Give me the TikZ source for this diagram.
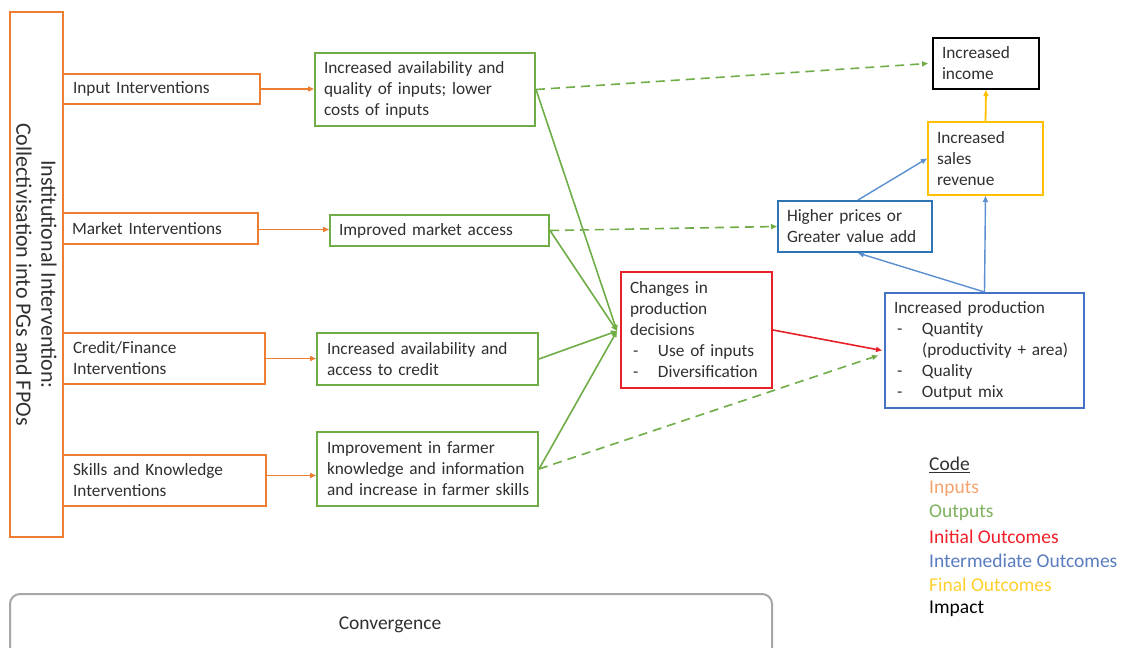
\documentclass[tikz,border=0pt]{standalone}
\usepackage{fontspec}
\setmainfont{Carlito}
\usetikzlibrary{arrows.meta}
\definecolor{cOr}{HTML}{ED7D31}
\definecolor{cGr}{HTML}{70AD47}
\definecolor{cRd}{HTML}{E8202A}
\definecolor{cBl}{HTML}{4472C4}
\definecolor{cBl2}{HTML}{2E75B6}
\definecolor{cBlA}{HTML}{5B8FD0}
\definecolor{cYe}{HTML}{FFC000}
\definecolor{cTx}{HTML}{303030}
\definecolor{cGy}{HTML}{A6A6A6}
\definecolor{lgOr}{HTML}{F4A46E}
\definecolor{lgGr}{HTML}{7FB25E}
\definecolor{lgRd}{HTML}{F0202A}
\definecolor{lgBl}{HTML}{5A7CC0}
\definecolor{lgYe}{HTML}{FFD030}
\begin{document}
\begin{tikzpicture}[x=1pt,y=-1pt,
  font=\fontsize{17.3}{21}\selectfont,
  bx/.style={draw, line width=2pt, align=left, inner xsep=9pt, inner ysep=0pt, text=cTx, anchor=center},
  inbox/.style={bx, draw=cOr},
  outbox/.style={bx, draw=cGr},
  inibox/.style={bx, draw=cRd},
  midbox/.style={bx, draw=cBl},
  midboxb/.style={bx, draw=cBl2},
  finbox/.style={bx, draw=cYe},
  impbox/.style={bx, draw=black},
  tip/.style={-{Triangle[length=6pt,width=5pt]}},
  orarrow/.style={tip, draw=cOr, line width=1.4pt},
  grarrow/.style={tip, draw=cGr, line width=1.6pt},
  grdash/.style={tip, draw=cGr, line width=1.6pt, dash pattern=on 9pt off 6pt},
  rdarrow/.style={tip, draw=cRd, line width=1.6pt},
  blarrow/.style={tip, draw=cBlA, line width=1.4pt},
  yearrow/.style={tip, draw=cYe, line width=1.8pt},
  legend/.style={anchor=west, inner sep=0pt, font=\fontsize{19.5}{23}\selectfont}
]
\clip (0,0) rectangle (1128,648);
\fill[white] (0,0) rectangle (1128,648);

% institutional box
\node[draw=cOr, line width=2.4pt, rotate=-90, minimum width=525pt, minimum height=53pt,
      align=center, inner sep=0pt, text=cTx, font=\fontsize{22}{25}\selectfont] (inst) at (36.5,274.5)
  {Institutional Intervention:\\Collectivisation into PGs and FPOs};

% inputs
\node[inbox, minimum width=197pt, minimum height=30pt, text width=177pt, inner xsep=10pt] (in1) at (161.5,89) {Input Interventions};
\node[inbox, minimum width=195pt, minimum height=31pt, text width=177pt, inner xsep=9pt] (in2) at (160.5,228.5) {Market Interventions};
\node[inbox, minimum width=202pt, minimum height=51pt, text width=182pt, inner xsep=10pt] (in3) at (164,358.5) {Credit/Finance\\Interventions};
\node[inbox, minimum width=203pt, minimum height=51pt, text width=183pt, inner xsep=10pt] (in4) at (164.5,480.5) {Skills and Knowledge\\Interventions};

% outputs
\node[outbox, minimum width=220pt, minimum height=73pt, text width=202pt] (g1) at (425,89.5) {\mbox{Increased availability and}\\\mbox{quality of inputs; lower}\\costs of inputs};
\node[outbox, minimum width=219pt, minimum height=31pt, text width=201pt] (g2) at (439.5,230.5) {\mbox{Improved market access}};
\node[outbox, minimum width=221pt, minimum height=52pt, text width=201pt, inner xsep=10pt] (g3) at (427.5,359) {\mbox{Increased availability and}\\access to credit};
\node[outbox, minimum width=221pt, minimum height=74pt, text width=201pt, inner xsep=10pt] (g4) at (427.5,469) {\mbox{Improvement in farmer}\\\mbox{knowledge and information}\\\mbox{and increase in farmer skills}};

% initial outcome
\node[inibox, minimum width=151pt, minimum height=116pt, text width=133pt] (r) at (696.5,330)
  {Changes in\\production\\decisions\\\makebox[28pt][l]{\hspace{3pt}-}Use of inputs\\\makebox[28pt][l]{\hspace{3pt}-}\mbox{Diversification}};

% intermediate outcomes
\node[midbox, minimum width=199pt, minimum height=115pt, text width=181pt] (p) at (984.5,350.5)
  {Increased production\\\makebox[28pt][l]{\hspace{3pt}-}Quantity\\\hspace*{28pt}\mbox{(productivity + area)}\\\makebox[28pt][l]{\hspace{3pt}-}Quality\\\makebox[28pt][l]{\hspace{3pt}-}Output mix};
\node[midboxb, minimum width=154pt, minimum height=51pt, text width=136pt] (h) at (855,226.5) {Higher prices or\\\mbox{Greater value add}};

% final outcome & impact
\node[finbox, minimum width=115pt, minimum height=73pt, text width=97pt] (y) at (985.5,158.5) {Increased\\sales\\revenue};
\node[impbox, minimum width=106pt, minimum height=51pt, text width=88pt] (k) at (986,63.5) {Increased\\income};

% convergence
\node[draw=cGy, line width=2pt, rounded corners=10pt, minimum width=762pt, minimum height=72pt,
      inner sep=0pt] (conv) at (391,630) {};
\node[text=cTx, font=\fontsize{19.5}{23}\selectfont, inner sep=0pt] (convt) at (390,625) {Convergence};

% legend
\node[legend, text=cTx] (lg0) at (929,465) {\underline{Code}};
\node[legend, text=lgOr] (lg1) at (929,489) {Inputs};
\node[legend, text=lgGr] (lg2) at (929,513) {Outputs};
\node[legend, text=lgRd] (lg3) at (929,537) {Initial Outcomes};
\node[legend, text=lgBl] (lg4) at (929,561) {Intermediate Outcomes};
\node[legend, text=lgYe] (lg5) at (929,585) {Final Outcomes};
\node[legend, text=black] (lg6) at (929,609) {Impact};

% input arrows
\draw[orarrow] (in1.east) -- (in1.east -| g1.west);
\draw[orarrow] ([yshift=-1pt]in2.east) -- ([yshift=-1pt]in2.east -| g2.west);
\draw[orarrow] (in3.east) -- (in3.east -| g3.west);
\draw[orarrow] ([yshift=5pt]in4.east) -- ([yshift=5pt]in4.east -| g4.west);

% outputs to initial outcome
\coordinate (rin) at ([xshift=-3pt,yshift=-1pt]r.west);
\draw[grarrow] (g1.east) -- (rin);
\draw[grarrow] (g2.east) -- (rin);
\draw[grarrow] (g3.east) -- (rin);
\draw[grarrow] (g4.east) -- (rin);

% dashed links
\draw[grdash] (g1.east) -- ([xshift=-4pt]k.west);
\draw[grdash] (g2.east) -- (h.west);
\draw[grdash] (g4.east) -- ([xshift=-6pt,yshift=-5pt]p.west);

% initial to intermediate
\draw[rdarrow] (r.east) -- ([xshift=-2pt]p.west);

% intermediate to final
\draw[blarrow] (p.north) -- (y.south);
\draw[blarrow] (p.north) -- ([xshift=3pt]h.south);
\draw[blarrow] ([xshift=3pt]h.north) -- (y.west);
\draw[yearrow] (y.north) -- (k.south);
\end{tikzpicture}
\end{document}
